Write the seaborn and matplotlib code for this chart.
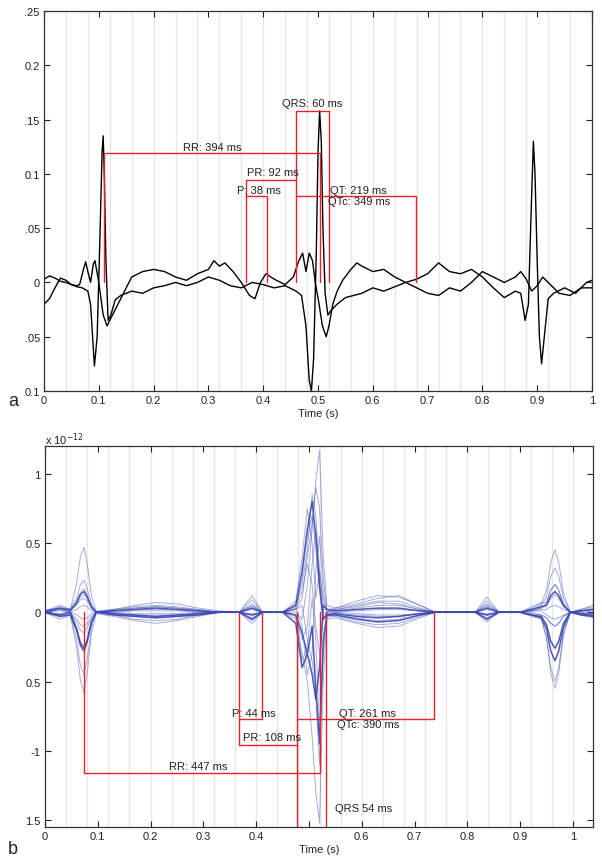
import numpy as np
import pandas as pd
import matplotlib
matplotlib.use('Agg')
import matplotlib.pyplot as plt
import seaborn as sns

# ---- panel a: two single-beat traces ----
a_t1 = [0.00, 0.01, 0.02, 0.03, 0.04, 0.05, 0.06, 0.07, 0.08, 0.085, 0.092, 0.097, 0.102,
        0.106, 0.108, 0.110, 0.113, 0.117, 0.122, 0.13, 0.14, 0.16, 0.18, 0.20, 0.22, 0.24,
        0.26, 0.28, 0.30, 0.32, 0.34, 0.36, 0.38, 0.40, 0.42, 0.44, 0.46, 0.47, 0.478, 0.484,
        0.488, 0.492, 0.497, 0.500, 0.503, 0.506, 0.509, 0.513, 0.518, 0.525, 0.535, 0.55,
        0.58, 0.60, 0.62, 0.64, 0.66, 0.68, 0.70, 0.72, 0.74, 0.76, 0.78, 0.80, 0.82, 0.84,
        0.86, 0.87, 0.878, 0.884, 0.888, 0.893, 0.896, 0.900, 0.904, 0.908, 0.913, 0.92,
        0.93, 0.95, 0.97, 0.99, 1.00]
a_v1 = [0.003, 0.006, 0.004, 0.001, 0.0, -0.002, -0.004, -0.005, -0.008, -0.02, -0.077,
        -0.05, 0.04, 0.12, 0.135, 0.10, 0.02, -0.035, -0.03, -0.016, -0.012, -0.008, -0.01,
        -0.005, -0.003, 0.0, -0.003, 0.0, 0.005, 0.002, -0.003, -0.005, 0.0, -0.002, -0.005,
        -0.003, -0.008, -0.012, -0.04, -0.09, -0.10, -0.07, 0.03, 0.12, 0.158, 0.13, 0.05,
        -0.01, -0.03, -0.025, -0.02, -0.014, -0.01, -0.005, -0.008, -0.004, 0.0, 0.003,
        0.008, 0.018, 0.01, 0.008, 0.012, 0.005, -0.005, -0.014, -0.008, -0.01, -0.035,
        -0.02, 0.05, 0.13, 0.10, 0.02, -0.05, -0.075, -0.05, -0.015, -0.01, -0.005, -0.01,
        0.0, 0.002]

a_t2 = [0.00, 0.01, 0.02, 0.03, 0.04, 0.05, 0.06, 0.065, 0.072, 0.076, 0.080, 0.085,
        0.090, 0.093, 0.100, 0.108, 0.115, 0.125, 0.14, 0.15, 0.16, 0.18, 0.20, 0.22, 0.24,
        0.26, 0.28, 0.30, 0.31, 0.32, 0.33, 0.345, 0.36, 0.375, 0.385, 0.395, 0.405, 0.42,
        0.44, 0.455, 0.465, 0.472, 0.478, 0.484, 0.490, 0.495, 0.502, 0.508, 0.515, 0.520,
        0.527, 0.535, 0.545, 0.56, 0.571, 0.58, 0.60, 0.62, 0.64, 0.66, 0.68, 0.70, 0.72,
        0.74, 0.76, 0.78, 0.80, 0.82, 0.84, 0.86, 0.87, 0.88, 0.89, 0.90, 0.91, 0.92, 0.94,
        0.96, 0.98, 1.00]
a_v2 = [-0.02, -0.015, -0.005, 0.004, 0.002, -0.002, -0.003, -0.002, 0.012, 0.019, 0.01,
        0.0, 0.017, 0.02, 0.0, -0.03, -0.04, -0.03, -0.015, -0.005, 0.005, 0.01, 0.012,
        0.01, 0.005, 0.002, 0.008, 0.012, 0.02, 0.015, 0.018, 0.01, 0.0, -0.012, -0.015,
        0.0, 0.008, 0.003, -0.002, 0.005, 0.02, 0.027, 0.01, 0.027, 0.02, 0.0, -0.02, -0.04,
        -0.05, -0.04, -0.02, -0.008, 0.002, 0.012, 0.018, 0.015, 0.01, 0.012, 0.005, 0.0,
        -0.005, -0.01, -0.012, -0.005, -0.008, 0.0, 0.01, 0.005, 0.0, 0.005, 0.01, 0.003,
        -0.008, -0.003, 0.005, 0.0, -0.01, -0.012, -0.005, -0.005]

# panel a interval marks (s) and labels
a_r_peaks = [0.109, 0.503]
a_p_on, a_p_off = 0.369, 0.407
a_qrs_on, a_qrs_off = 0.460, 0.520
a_t_end = 0.679
a_labels = ['RR: 394 ms', 'QRS: 60 ms', 'PR: 92 ms', 'P: 38 ms', 'QT: 219 ms', 'QTc: 349 ms']

# ---- panel b: butterfly plot of channels (units 1e-12) ----
# sample times: first complex, T / P / QRS / T / P, last complex
b_t = [0.000, 0.028, 0.048, 0.060, 0.067, 0.074, 0.080, 0.088, 0.097,
       0.130, 0.170, 0.210, 0.250, 0.290, 0.330, 0.368, 0.392, 0.412, 0.450,
       0.475, 0.487, 0.497, 0.506, 0.513, 0.520, 0.527, 0.534,
       0.550, 0.590, 0.630, 0.670, 0.710, 0.740, 0.790, 0.815, 0.837, 0.860, 0.900,
       0.922, 0.940, 0.950, 0.958, 0.966, 0.973, 0.982, 0.995, 1.015, 1.038]

ch01 = ([0.00, -0.02, 0.00, -0.12, -0.22, -0.26, -0.20, -0.07, 0.00]
        + [0.01, 0.02, 0.03, 0.02, 0.01, 0.00, 0.00, 0.03, 0.00, 0.00, -0.02, -0.15, -0.30, -0.45, -0.63, -0.40, 0.05, 0.02, 0.01, 0.02, 0.03, 0.03, 0.01, 0.00, 0.00, 0.00, 0.03, 0.00, 0.00]
        + [-0.02, -0.03, -0.09, -0.21, -0.26, -0.21, -0.08, 0.00, 0.01, 0.02])
ch02 = ([0.01, 0.03, 0.01, 0.07, 0.13, 0.15, 0.11, 0.04, 0.00]
        + [-0.01, -0.02, -0.03, -0.02, -0.01, 0.00, 0.00, -0.02, 0.00, 0.00, 0.05, 0.30, 0.60, 0.80, 0.55, 0.20, -0.05, -0.02, -0.01, -0.03, -0.04, -0.03, -0.01, 0.00, 0.00, 0.00, -0.02, 0.00, 0.00]
        + [0.02, 0.04, 0.05, 0.12, 0.15, 0.12, 0.05, 0.00, -0.01, -0.02])
ch03 = ([0.00, 0.04, 0.02, 0.21, 0.40, 0.47, 0.35, 0.12, 0.01]
        + [0.02, 0.04, 0.05, 0.04, 0.02, 0.00, 0.00, 0.12, 0.00, 0.00, 0.00, -0.05, 0.20, 0.60, 0.95, 1.17, 0.40, 0.05, 0.03, 0.06, 0.10, 0.12, 0.05, 0.00, 0.00, 0.00, 0.11, 0.00, 0.00]
        + [0.03, 0.06, 0.16, 0.36, 0.45, 0.36, 0.14, 0.00, 0.02, 0.04])
ch04 = ([0.00, -0.05, -0.02, -0.26, -0.49, -0.58, -0.44, -0.15, -0.01]
        + [-0.03, -0.06, -0.08, -0.06, -0.03, 0.00, 0.00, -0.08, 0.00, 0.00, -0.02, -0.30, -0.50, -0.90, -1.30, -1.52, -0.50, -0.05, -0.04, -0.08, -0.11, -0.10, -0.04, 0.00, 0.00, 0.00, -0.07, 0.00, 0.00]
        + [-0.03, -0.05, -0.19, -0.44, -0.55, -0.44, -0.17, 0.00, -0.02, -0.04])
ch05 = ([0.00, 0.02, 0.03, 0.10, 0.20, 0.23, 0.17, 0.06, 0.00]
        + [0.01, 0.03, 0.04, 0.03, 0.01, 0.00, 0.00, 0.06, 0.00, 0.00, 0.02, 0.25, 0.55, 0.70, 0.45, 0.15, -0.05, 0.00, 0.02, 0.05, 0.08, 0.08, 0.03, 0.00, 0.00, 0.00, 0.06, 0.00, 0.00]
        + [0.02, 0.05, 0.11, 0.26, 0.32, 0.26, 0.10, 0.00, 0.01, 0.03])
ch06 = ([0.00, -0.03, -0.01, -0.20, -0.38, -0.45, -0.34, -0.11, 0.00]
        + [-0.02, -0.05, -0.06, -0.05, -0.02, 0.00, 0.00, -0.06, 0.00, 0.00, -0.05, -0.35, -0.25, 0.10, -0.20, -0.85, -0.30, -0.03, -0.03, -0.07, -0.09, -0.08, -0.03, 0.00, 0.00, 0.00, -0.05, 0.00, 0.00]
        + [-0.02, -0.04, -0.18, -0.40, -0.50, -0.40, -0.15, 0.00, -0.01, -0.03])
ch07 = ([0.01, 0.05, 0.02, 0.05, 0.09, 0.10, 0.08, 0.03, 0.00]
        + [0.02, 0.05, 0.07, 0.06, 0.03, 0.01, 0.00, 0.09, 0.00, 0.00, 0.08, 0.40, 0.75, 0.50, 0.10, 0.30, 0.10, 0.02, 0.03, 0.08, 0.12, 0.11, 0.05, 0.00, 0.00, 0.00, 0.08, 0.00, 0.00]
        + [0.04, 0.07, 0.07, 0.16, 0.20, 0.16, 0.06, 0.00, 0.02, 0.05])
ch08 = ([0.00, -0.01, 0.00, -0.07, -0.13, -0.15, -0.11, -0.04, 0.00]
        + [-0.01, -0.03, -0.04, -0.03, -0.01, 0.00, 0.00, -0.04, 0.00, 0.00, 0.03, -0.10, -0.45, -0.30, 0.30, 0.55, 0.15, -0.02, -0.02, -0.04, -0.06, -0.05, -0.02, 0.00, 0.00, 0.00, -0.04, 0.00, 0.00]
        + [0.00, -0.02, -0.04, -0.08, -0.10, -0.08, -0.03, 0.00, -0.01, -0.02])
ch09 = ([0.00, 0.01, 0.00, 0.02, 0.04, 0.05, 0.04, 0.01, 0.00]
        + [0.00, 0.01, 0.01, 0.01, 0.00, 0.00, 0.00, 0.02, 0.00, 0.00, 0.04, 0.15, 0.35, 0.20, -0.10, -0.30, -0.05, 0.00, 0.00, 0.01, 0.02, 0.02, 0.01, 0.00, 0.00, 0.00, 0.02, 0.00, 0.00]
        + [0.01, 0.02, 0.02, 0.04, 0.05, 0.04, 0.02, 0.00, 0.00, 0.01])
ch10 = ([0.00, -0.02, -0.01, -0.05, -0.09, -0.10, -0.08, -0.03, 0.00]
        + [-0.01, -0.02, -0.02, -0.02, -0.01, 0.00, 0.00, -0.02, 0.00, 0.00, -0.03, -0.20, -0.10, 0.35, 0.60, 0.20, 0.00, -0.01, -0.01, -0.02, -0.03, -0.03, -0.01, 0.00, 0.00, 0.00, -0.02, 0.00, 0.00]
        + [-0.01, -0.02, -0.04, -0.08, -0.10, -0.08, -0.03, 0.00, -0.01, -0.01])
ch11 = ([0.00, 0.03, 0.02, 0.08, 0.14, 0.17, 0.13, 0.04, 0.00]
        + [0.01, 0.02, 0.02, 0.02, 0.01, 0.00, 0.00, 0.04, 0.00, 0.00, 0.06, 0.20, 0.45, 0.85, 0.70, 0.30, 0.05, 0.01, 0.01, 0.03, 0.05, 0.05, 0.02, 0.00, 0.00, 0.00, 0.04, 0.00, 0.00]
        + [0.02, 0.03, 0.07, 0.16, 0.20, 0.16, 0.06, 0.00, 0.01, 0.02])
ch12 = ([0.00, -0.03, -0.02, -0.13, -0.24, -0.28, -0.21, -0.07, 0.00]
        + [-0.02, -0.03, -0.04, -0.03, -0.02, 0.00, 0.00, -0.05, 0.00, 0.00, -0.08, -0.40, -0.30, -0.10, -0.55, -0.95, -0.20, -0.02, -0.02, -0.05, -0.07, -0.06, -0.02, 0.00, 0.00, 0.00, -0.05, 0.00, 0.00]
        + [-0.02, -0.04, -0.12, -0.28, -0.35, -0.28, -0.11, 0.00, -0.02, -0.03])
ch13 = ([0.01, 0.02, 0.01, 0.06, 0.11, 0.13, 0.10, 0.03, 0.00]
        + [0.02, 0.03, 0.04, 0.03, 0.02, 0.00, 0.00, 0.05, 0.00, 0.00, 0.02, 0.10, 0.40, 0.65, 0.90, 0.75, 0.25, 0.02, 0.02, 0.04, 0.07, 0.06, 0.02, 0.00, 0.00, 0.00, 0.05, 0.00, 0.00]
        + [0.01, 0.03, 0.05, 0.10, 0.13, 0.10, 0.04, 0.00, 0.01, 0.02])
ch14 = ([0.00, 0.02, 0.00, -0.02, -0.04, -0.05, -0.04, -0.01, 0.00]
        + [0.00, -0.01, -0.01, -0.01, 0.00, 0.00, 0.00, -0.01, 0.00, 0.00, 0.02, 0.05, -0.20, -0.35, -0.60, -1.10, -0.25, 0.00, 0.00, -0.01, -0.02, -0.02, -0.01, 0.00, 0.00, 0.00, -0.01, 0.00, 0.00]
        + [0.01, 0.01, -0.02, -0.04, -0.05, -0.04, -0.02, 0.00, 0.00, -0.01])
light_channels = [ch03, ch04, ch05, ch06, ch07, ch08, ch09, ch10, ch11, ch13, ch14]
dark_channels = [ch01, ch02, ch12]

# panel b interval marks (s) and labels
b_r_peaks = [0.074, 0.520]
b_p_on, b_p_off = 0.367, 0.411
b_qrs_on, b_qrs_off = 0.477, 0.532
b_t_end = 0.737
b_labels = ['RR: 447 ms', 'QRS 54 ms', 'PR: 108 ms', 'P: 44 ms', 'QT: 261 ms', 'QTc: 390 ms']

sns.set_style('ticks')
plt.rcParams['font.family'] = ['Liberation Sans', 'DejaVu Sans']
plt.rcParams['font.size'] = 8

W, H = 602, 862
fig = plt.figure(figsize=(W / 100, H / 100), dpi=100)
ax1 = fig.add_axes([44 / W, 1 - 392 / H, 548 / W, 380 / H])
ax2 = fig.add_axes([45 / W, 1 - 828 / H, 548 / W, 381 / H])

RED = '#e8202a'
grid = np.arange(0.04, 1.04, 0.04)

for ax in (ax1, ax2):
    for g in grid:
        ax.axvline(g, color='#e6e6e6', lw=1, zorder=0)
    ax.tick_params(direction='in', top=True, right=True, length=4, width=0.8,
                   labelsize=8, pad=3, colors='#222222')
    for s in ax.spines.values():
        s.set_color('#333333')
        s.set_linewidth(0.9)
    ax.set_xticks(np.arange(0, 1.01, 0.1))

# ---- panel a ----
sns.lineplot(x=a_t1, y=a_v1, ax=ax1, color='black', lw=1.0, estimator=None, sort=False)
sns.lineplot(x=a_t2, y=a_v2, ax=ax1, color='black', lw=1.0, estimator=None, sort=False)
ax1.set_xlim(0, 1)
ax1.set_ylim(-0.1, 0.25)
ax1.set_xticklabels(['0', '0.1', '0.2', '0.3', '0.4', '0.5', '0.6', '0.7', '0.8', '0.9', '1'])
ax1.set_yticks([0.25, 0.2, 0.15, 0.1, 0.05, 0, -0.05, -0.1])
ax1.set_yticklabels(['.25', '0.2', '.15', '0.1', '.05', '0', '.05', '0.1'])
ax1.set_xlabel('Time (s)', fontsize=8, labelpad=2)

rr, qrs_l, pr_l, p_l, qt_l = 0.119, 0.158, 0.0945, 0.0795, 0.0795
kw = dict(color=RED, lw=1.0, zorder=3)
ax1.plot([a_r_peaks[0], a_r_peaks[0], a_r_peaks[1], a_r_peaks[1]], [0, rr, rr, 0], **kw)
ax1.plot([a_qrs_on, a_qrs_on, a_qrs_off, a_qrs_off], [0, qrs_l, qrs_l, 0], **kw)
ax1.plot([a_p_on, a_p_on, a_qrs_on], [0, pr_l, pr_l], **kw)
ax1.plot([a_p_on, a_p_off, a_p_off], [p_l, p_l, 0], **kw)
ax1.plot([a_qrs_on, a_t_end, a_t_end], [qt_l, qt_l, 0], **kw)

tk = dict(fontsize=8, va='center', color='#222222', zorder=4)
ax1.text(0.307, 0.125, a_labels[0], ha='center', **tk)
ax1.text(0.490, 0.165, a_labels[1], ha='center', **tk)
ax1.text(0.370, 0.102, a_labels[2], ha='left', **tk)
ax1.text(0.352, 0.0855, a_labels[3], ha='left', **tk)
ax1.text(0.522, 0.0855, a_labels[4], ha='left', **tk)
ax1.text(0.518, 0.075, a_labels[5], ha='left', **tk)

# ---- panel b ----
BLUE = '#3a48b0'
for ch in light_channels:
    sns.lineplot(x=b_t, y=ch, ax=ax2, color=BLUE, lw=0.7, alpha=0.45,
                 estimator=None, sort=False)
for ch in dark_channels:
    sns.lineplot(x=b_t, y=ch, ax=ax2, color=BLUE, lw=1.1, alpha=0.9,
                 estimator=None, sort=False)
ax2.set_xlim(0, 1.038)
ax2.set_ylim(-1.55, 1.2)
ax2.set_xticklabels(['0', '0.1', '0.2', '0.3', '0.4', '', '0.6', '0.7', '0.8', '0.9', '1'])
ax2.set_yticks([1, 0.5, 0, -0.5, -1, -1.5])
ax2.set_yticklabels(['1', '0.5', '0', '0.5', '-1', '1.5'])
ax2.set_xlabel('Time (s)', fontsize=8, labelpad=2)

rr2, pr2, p2, qt2 = -1.16, -0.96, -0.77, -0.77
ax2.plot([b_r_peaks[0], b_r_peaks[0], b_r_peaks[1], b_r_peaks[1]], [0, rr2, rr2, 0], **kw)
ax2.plot([b_qrs_on, b_qrs_on], [0, -1.7], **kw)
ax2.plot([b_qrs_off, b_qrs_off], [0, -1.7], **kw)
ax2.plot([b_p_on, b_p_on, b_qrs_on], [0, pr2, pr2], **kw)
ax2.plot([b_p_on, b_p_off, b_p_off], [p2, p2, 0], **kw)
ax2.plot([b_qrs_on, b_t_end, b_t_end], [qt2, qt2, 0], **kw)

ax2.text(0.290, -1.11, b_labels[0], ha='center', **tk)
ax2.text(0.549, -1.41, b_labels[1], ha='left', **tk)
ax2.text(0.375, -0.90, b_labels[2], ha='left', **tk)
ax2.text(0.354, -0.73, b_labels[3], ha='left', **tk)
ax2.text(0.557, -0.73, b_labels[4], ha='left', **tk)
ax2.text(0.553, -0.81, b_labels[5], ha='left', **tk)

fig.text(45 / W, 1 - 440 / H, r'x 10$^{-12}$', fontsize=8, va='center', color='#222222')
fig.text(8 / W, 1 - 402 / H, 'a', fontsize=13, va='center')
fig.text(8 / W, 1 - 850 / H, 'b', fontsize=13, va='center')

fig.savefig('out.png', dpi=100)
